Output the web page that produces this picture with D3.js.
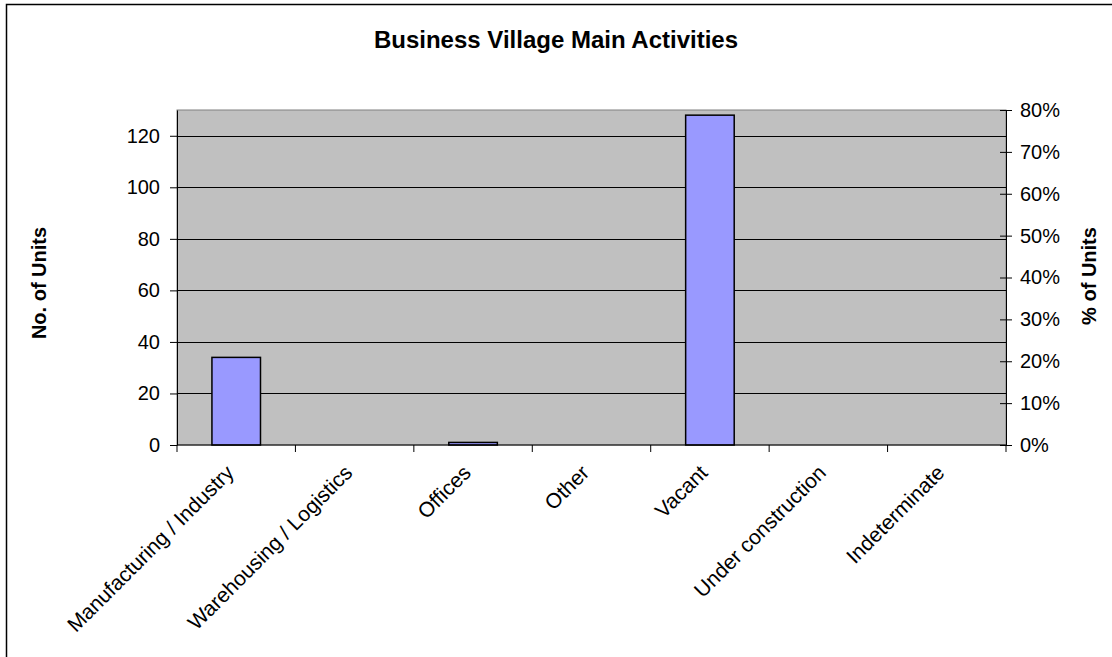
<!DOCTYPE html>
<html>
<head>
<meta charset="utf-8">
<script src="https://cdn.jsdelivr.net/npm/d3@7"></script>
<style>
  html, body { margin: 0; padding: 0; background: #fff; }
  svg { display: block; font-family: "Liberation Sans", Arial, sans-serif; }
</style>
</head>
<body>
<svg id="chart" width="1112" height="657"></svg>
<script>
// Activity categories and number of units in each
const categories = ["Manufacturing / Industry", "Warehousing / Logistics", "Offices", "Other", "Vacant", "Under construction", "Indeterminate"];
const units = [34, 0, 1, 0, 128, 0, 0];
const leftTicks = [0, 20, 40, 60, 80, 100, 120];
const rightTicks = [0, 0.1, 0.2, 0.3, 0.4, 0.5, 0.6, 0.7, 0.8];

const svg = d3.select("#chart");
const plot = { left: 177, right: 1006, top: 110, bottom: 445 };
const font = "'Liberation Sans', Arial, sans-serif";

// Outer chart frame
svg.append("rect")
  .attr("x", 6.5).attr("y", 4.5)
  .attr("width", 1130).attr("height", 680)
  .attr("fill", "#fff").attr("stroke", "#000").attr("stroke-width", 1.5);

const x = d3.scaleBand().domain(categories).range([plot.left, plot.right]).paddingInner(0).paddingOuter(0);
const y = d3.scaleLinear().domain([0, 130]).range([plot.bottom, plot.top]);
const y2 = d3.scaleLinear().domain([0, 0.8]).range([plot.bottom, plot.top]);

// Plot area background
svg.append("rect")
  .attr("x", plot.left).attr("y", plot.top)
  .attr("width", plot.right - plot.left).attr("height", plot.bottom - plot.top)
  .attr("fill", "#c0c0c0").attr("stroke", "#808080").attr("stroke-width", 1);

// Horizontal gridlines
svg.append("g").selectAll("line")
  .data(leftTicks.filter(d => d > 0))
  .join("line")
  .attr("x1", plot.left).attr("x2", plot.right)
  .attr("y1", d => Math.round(y(d)) + 0.5).attr("y2", d => Math.round(y(d)) + 0.5)
  .attr("stroke", "#000").attr("stroke-width", 1);

// Bars
const bw = x.bandwidth() * 0.41;
svg.append("g").selectAll("rect")
  .data(units.map((v, i) => ({ c: categories[i], v })).filter(d => d.v > 0))
  .join("rect")
  .attr("x", d => x(d.c) + (x.bandwidth() - bw) / 2)
  .attr("y", d => y(d.v))
  .attr("width", bw)
  .attr("height", d => y(0) - y(d.v))
  .attr("fill", "#9999ff").attr("stroke", "#000").attr("stroke-width", 1.5);

// Left axis
const leftAxis = svg.append("g")
  .attr("transform", `translate(${plot.left},0)`)
  .call(d3.axisLeft(y).tickValues(leftTicks).tickSize(7).tickPadding(10).tickSizeOuter(0));
leftAxis.select(".domain").attr("stroke", "#000");
leftAxis.selectAll("text").attr("font-size", 20).attr("fill", "#000").attr("font-family", font);

// Right axis with ticks crossing the line
const rightAxis = svg.append("g")
  .attr("transform", `translate(${plot.right},0)`)
  .call(d3.axisRight(y2).tickValues(rightTicks).tickFormat(d3.format(".0%")).tickSize(6).tickPadding(8).tickSizeOuter(0));
rightAxis.selectAll(".tick line").attr("x1", -6);
rightAxis.selectAll("text").attr("font-size", 20).attr("fill", "#000").attr("font-family", font);

// Bottom axis with ticks at category boundaries
const bottomAxis = svg.append("g").attr("transform", `translate(0,${plot.bottom})`);
bottomAxis.append("line")
  .attr("x1", plot.left).attr("x2", plot.right)
  .attr("stroke", "#000");
bottomAxis.selectAll("line.tick")
  .data(categories.map(c => x(c)).concat([plot.right]))
  .join("line").attr("class", "tick")
  .attr("x1", d => d).attr("x2", d => d)
  .attr("y1", 0).attr("y2", 7)
  .attr("stroke", "#000");
bottomAxis.selectAll("text")
  .data(categories)
  .join("text")
  .attr("transform", d => `translate(${x(d) + x.bandwidth() / 2 - 1},${29}) rotate(-45)`)
  .attr("text-anchor", "end")
  .attr("font-size", 21)
  .attr("font-family", font)
  .text(d => d);

// Title
svg.append("text")
  .attr("x", 556).attr("y", 48)
  .attr("text-anchor", "middle")
  .attr("font-size", 24).attr("font-weight", "bold")
  .text("Business Village Main Activities");

// Axis titles
svg.append("text")
  .attr("transform", `translate(46,283) rotate(-90)`)
  .attr("text-anchor", "middle")
  .attr("font-size", 20).attr("font-weight", "bold")
  .text("No. of Units");
svg.append("text")
  .attr("transform", `translate(1096,276) rotate(-90)`)
  .attr("text-anchor", "middle")
  .attr("font-size", 20).attr("font-weight", "bold")
  .text("% of Units");
</script>
</body>
</html>
